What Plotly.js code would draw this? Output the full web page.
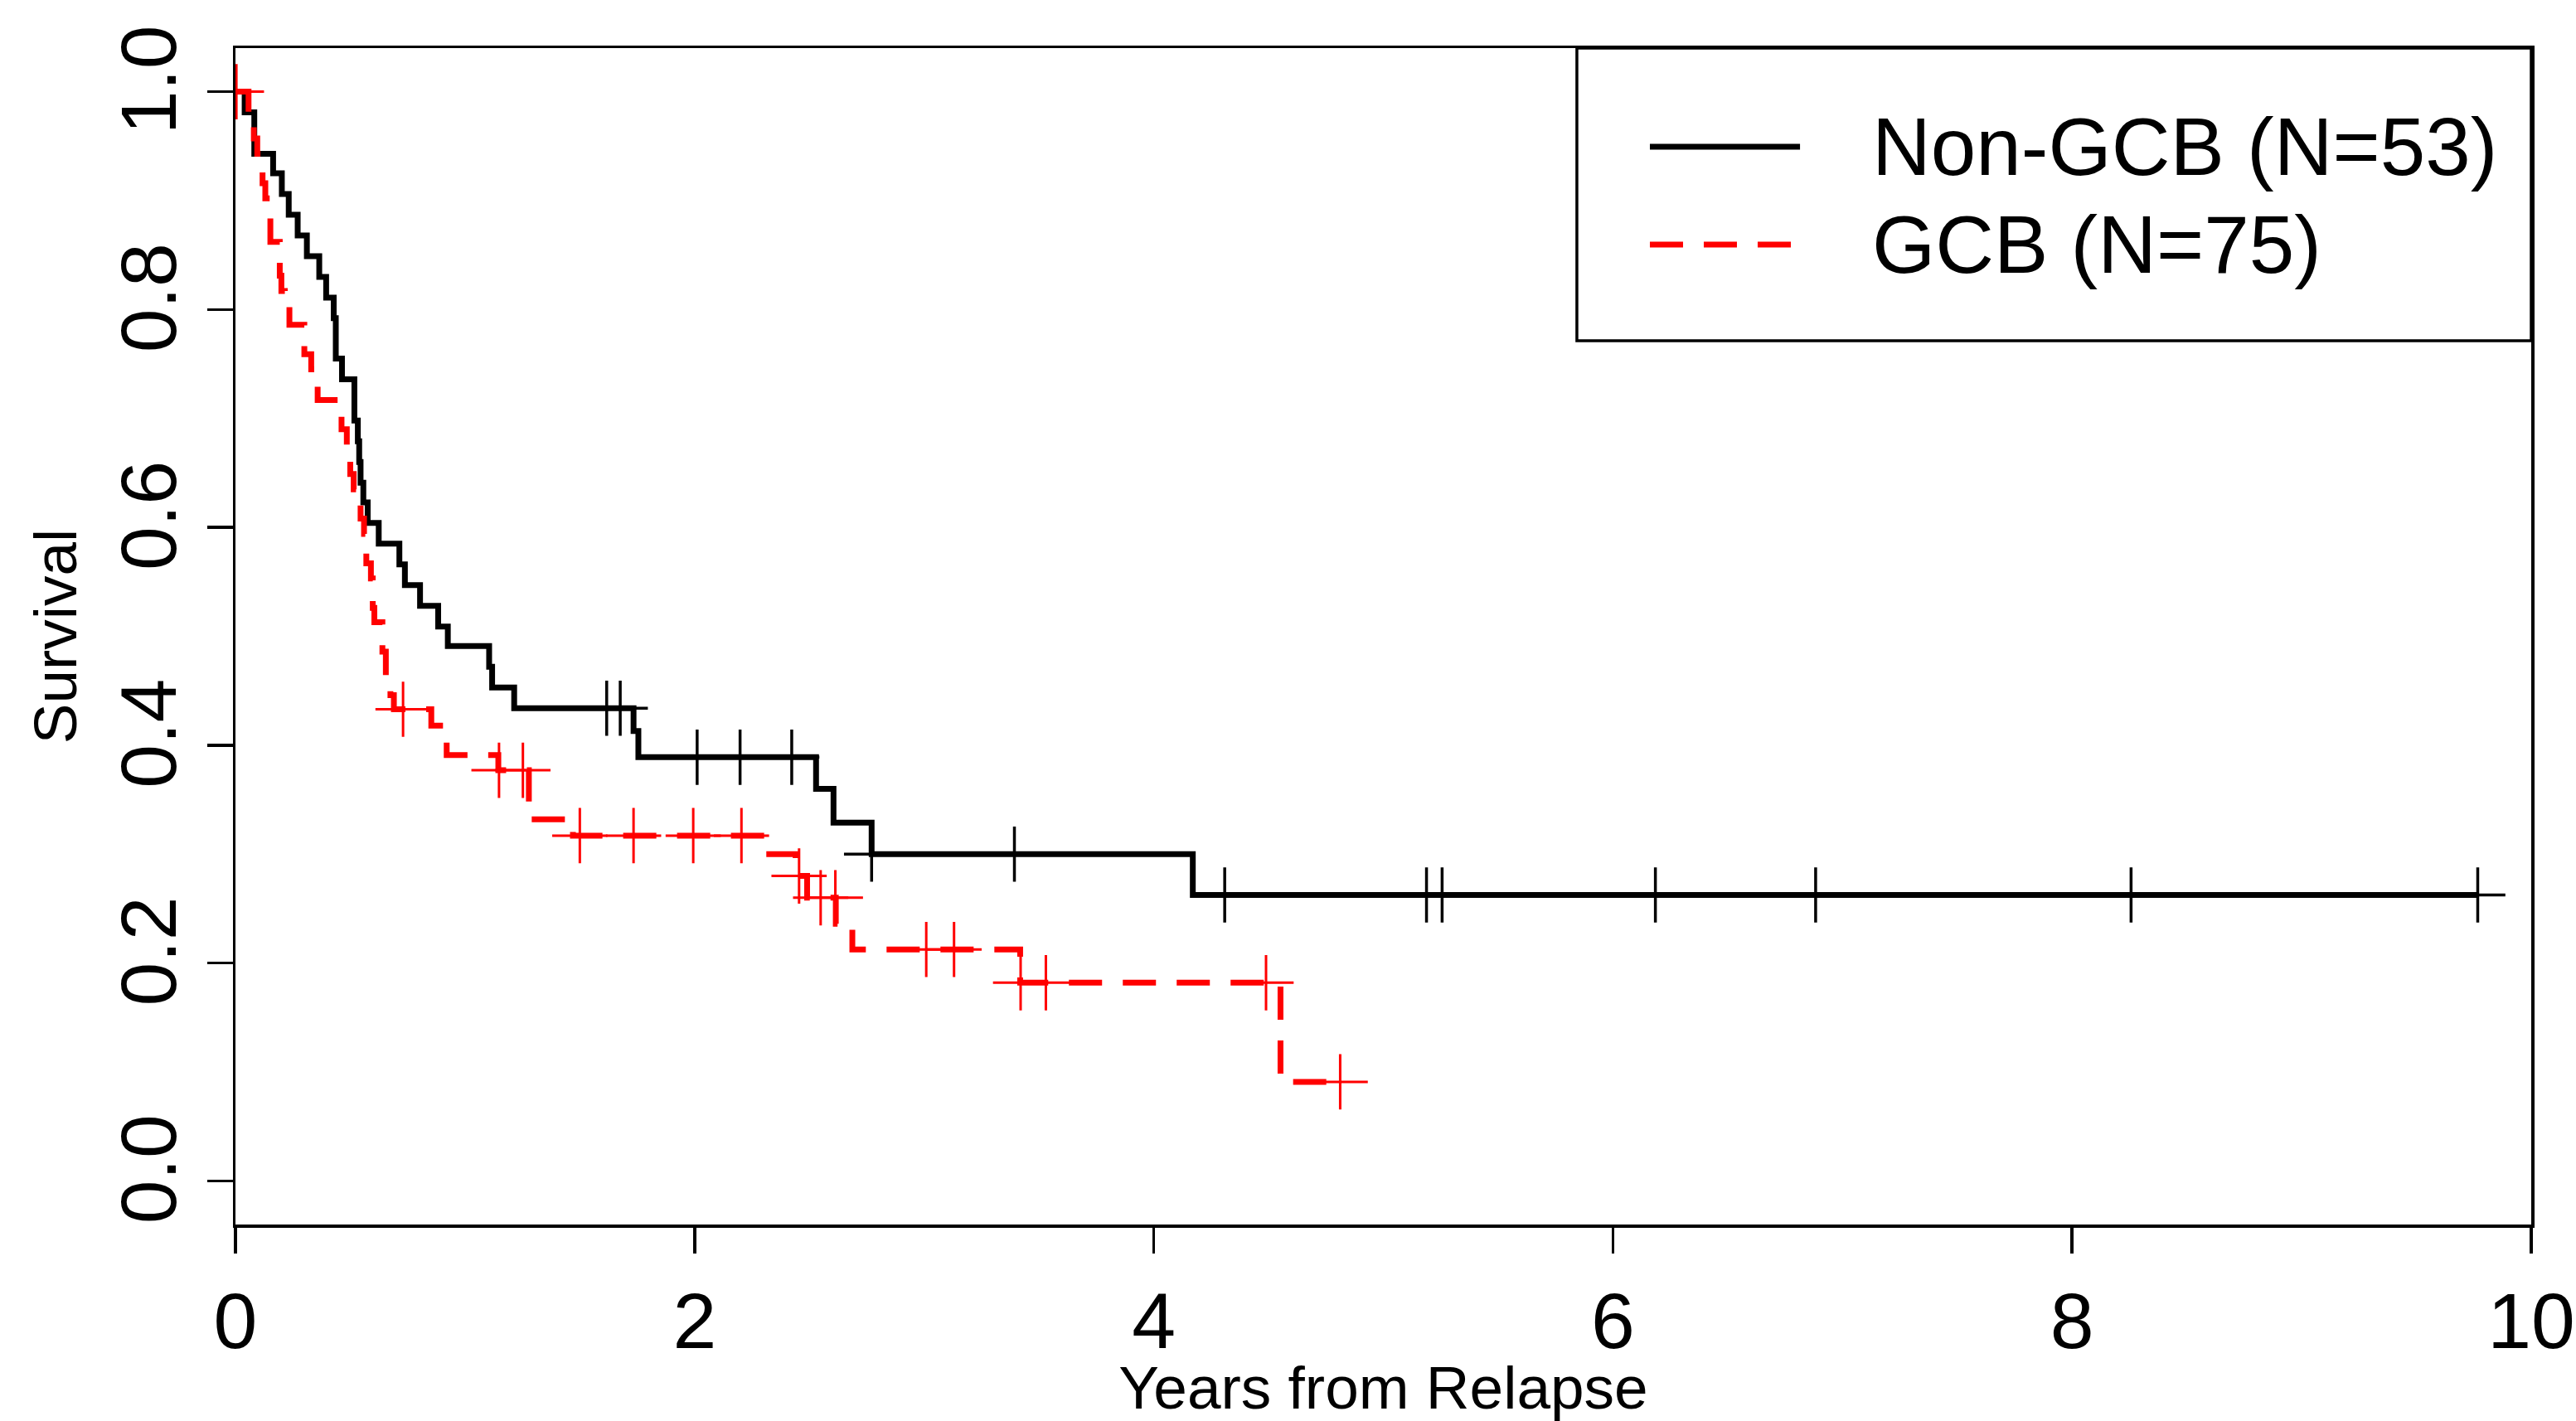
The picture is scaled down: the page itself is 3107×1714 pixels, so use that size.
<!DOCTYPE html>
<html>
<head>
<meta charset="utf-8">
<script src="https://cdn.plot.ly/plotly-3.0.1.min.js"></script>
<style>
  html, body { margin: 0; padding: 0; background: #ffffff; }
  #chart { width: 3107px; height: 1714px; }
</style>
</head>
<body>
<div id="chart"></div>
<script>
// ---- Data (Kaplan-Meier steps) ----
// Non-GCB (N=53): event times and survival after each step
const nonGcbTimes = [0, 0.04, 0.082, 0.164, 0.202, 0.232, 0.271, 0.311, 0.365, 0.395, 0.428, 0.437, 0.464, 0.518, 0.533, 0.539, 0.545, 0.557, 0.576, 0.624, 0.714, 0.738, 0.804, 0.883, 0.925, 1.105, 1.118, 1.214, 1.734, 1.755, 2.529, 2.605, 2.771, 4.170, 9.767];
const nonGcbSurv  = [1.0, 0.981, 0.943, 0.925, 0.906, 0.887, 0.868, 0.849, 0.830, 0.811, 0.792, 0.755, 0.736, 0.698, 0.679, 0.660, 0.641, 0.623, 0.604, 0.585, 0.566, 0.547, 0.528, 0.509, 0.491, 0.472, 0.453, 0.434, 0.413, 0.389, 0.360, 0.329, 0.300, 0.2625, 0.2625];
// Non-GCB censoring marks
const nonGcbCensTimes = [1.617, 1.676, 2.011, 2.198, 2.423, 2.771, 3.393, 4.309, 5.188, 5.256, 6.185, 6.883, 8.257, 9.767];
const nonGcbCensSurv  = [0.434, 0.434, 0.389, 0.389, 0.389, 0.300, 0.300, 0.2625, 0.2625, 0.2625, 0.2625, 0.2625, 0.2625, 0.2625];

// GCB (N=75): event times and survival after each step
const gcbTimes = [0, 0.057, 0.080, 0.095, 0.118, 0.130, 0.152, 0.193, 0.200, 0.215, 0.235, 0.300, 0.330, 0.358, 0.462, 0.485, 0.500, 0.515, 0.545, 0.560, 0.570, 0.590, 0.598, 0.605, 0.640, 0.655, 0.675, 0.690, 0.853, 0.920, 1.145, 1.278, 1.470, 2.310, 2.440, 2.490, 2.615, 2.687, 3.418, 4.552, 4.812];
const gcbSurv  = [1.0, 0.973, 0.957, 0.943, 0.916, 0.902, 0.862, 0.831, 0.817, 0.803, 0.786, 0.759, 0.745, 0.717, 0.690, 0.676, 0.649, 0.635, 0.608, 0.594, 0.567, 0.553, 0.526, 0.513, 0.486, 0.460, 0.446, 0.433, 0.418, 0.391, 0.377, 0.332, 0.317, 0.300, 0.280, 0.260, 0.236, 0.2125, 0.182, 0.091, 0.091];
// GCB censoring marks
const gcbCensTimes = [0.004, 0.730, 1.148, 1.252, 1.500, 1.734, 1.994, 2.204, 2.455, 2.549, 2.613, 3.009, 3.130, 3.420, 3.530, 4.489, 4.812];
const gcbCensSurv  = [1.0, 0.433, 0.377, 0.377, 0.317, 0.317, 0.317, 0.317, 0.280, 0.260, 0.260, 0.2125, 0.2125, 0.182, 0.182, 0.182, 0.091];

// Legend labels
const seriesNames = ['Non-GCB (N=53)', 'GCB (N=75)'];

// Tick labels
const xTickVals = [0, 2, 4, 6, 8, 10];
const xTickText = ['0', '2', '4', '6', '8', '10'];
const yTickVals = [0, 0.2, 0.4, 0.6, 0.8, 1.0];
const yTickText = ['0.0', '0.2', '0.4', '0.6', '0.8', '1.0'];

// ---- Styling ----
const FONT = '"Liberation Sans", Arial, Helvetica, sans-serif';
const BLACK = '#000000';
const RED = '#ff0000';
const DASH = '40px,25px';

const traces = [
  {
    x: nonGcbTimes, y: nonGcbSurv, type: 'scatter', mode: 'lines',
    name: seriesNames[0], showlegend: false,
    line: { color: BLACK, width: 7, shape: 'hv' }, hoverinfo: 'skip'
  },
  {
    x: nonGcbCensTimes, y: nonGcbCensSurv, type: 'scatter', mode: 'markers',
    showlegend: false, cliponaxis: true, hoverinfo: 'skip',
    marker: { symbol: 'cross-thin-open', size: 47.6, color: BLACK, line: { color: BLACK, width: 3.5 } }
  },
  {
    x: gcbTimes, y: gcbSurv, type: 'scatter', mode: 'lines',
    name: seriesNames[1], showlegend: false,
    line: { color: RED, width: 7, shape: 'hv', dash: DASH }, hoverinfo: 'skip'
  },
  {
    x: gcbCensTimes, y: gcbCensSurv, type: 'scatter', mode: 'markers',
    showlegend: false, cliponaxis: true, hoverinfo: 'skip',
    marker: { symbol: 'cross-thin-open', size: 47.6, color: RED, line: { color: RED, width: 3 } }
  }
];

const axisCommon = {
  showgrid: false, zeroline: false,
  showline: true, linecolor: BLACK, linewidth: 3.5, mirror: true,
  ticks: 'outside', ticklen: 31, tickwidth: 3.5, tickcolor: BLACK,
  tickfont: { family: FONT, size: 95, color: BLACK }
};

const layout = {
  width: 3107, height: 1714,
  margin: { l: 284, r: 54, t: 58, b: 237, pad: 0 },
  paper_bgcolor: '#ffffff', plot_bgcolor: '#ffffff',
  font: { family: FONT, color: BLACK },
  showlegend: false,
  xaxis: Object.assign({}, axisCommon, {
    range: [0, 10], tickmode: 'array', tickvals: xTickVals, ticktext: xTickText,
    title: { text: 'Years from Relapse', font: { family: FONT, size: 73, color: BLACK }, standoff: 45 }
  }),
  yaxis: Object.assign({}, axisCommon, {
    range: [-0.04, 1.04], tickmode: 'array', tickvals: yTickVals, ticktext: yTickText,
    tickangle: -90,
    title: { text: 'Survival', font: { family: FONT, size: 73, color: BLACK }, standoff: 10 }
  }),
  shapes: [
    // legend box
    { type: 'rect', xref: 'x', yref: 'y', x0: 5.843, x1: 10, y0: 0.7713, y1: 1.04,
      line: { color: BLACK, width: 3.5 }, fillcolor: 'rgba(0,0,0,0)', layer: 'above' },
    // legend samples
    { type: 'line', xref: 'x', yref: 'y', x0: 6.161, x1: 6.815, y0: 0.9494, y1: 0.9494,
      line: { color: BLACK, width: 7 } },
    { type: 'line', xref: 'x', yref: 'y', x0: 6.161, x1: 6.775, y0: 0.8596, y1: 0.8596,
      line: { color: RED, width: 7, dash: DASH } }
  ],
  annotations: [
    { xref: 'x', yref: 'y', x: 7.122, y: 0.9494, xanchor: 'left', yanchor: 'middle',
      text: seriesNames[0], showarrow: false, font: { family: FONT, size: 98, color: BLACK } },
    { xref: 'x', yref: 'y', x: 7.122, y: 0.8596, xanchor: 'left', yanchor: 'middle',
      text: seriesNames[1], showarrow: false, font: { family: FONT, size: 98, color: BLACK } }
  ]
};

Plotly.newPlot('chart', traces, layout, { staticPlot: true, displayModeBar: false });
</script>
</body>
</html>
